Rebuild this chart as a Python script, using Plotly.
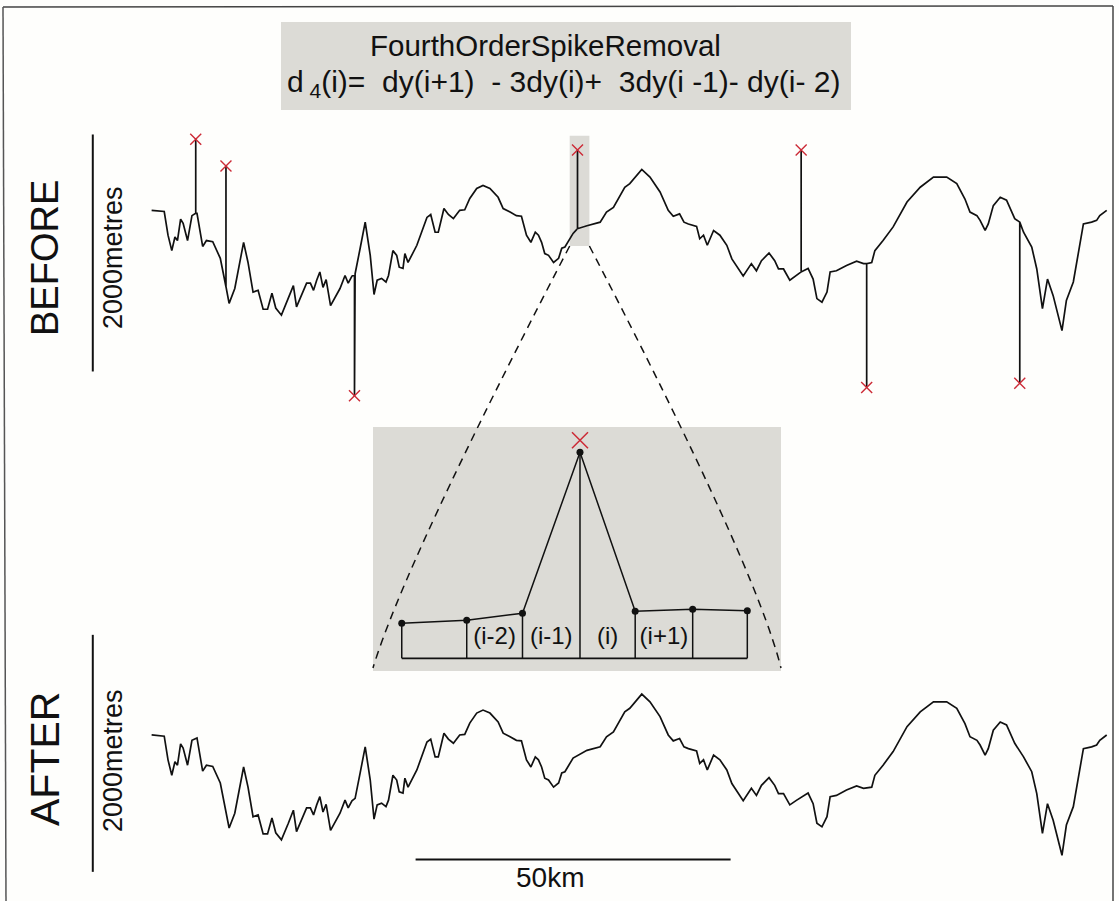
import plotly.graph_objects as go

W, H = 1119, 901

# Cleaned terrain profile: distance along track (km) and elevation (m)
dist_km = [0.1, 2.1, 2.7, 3.3, 3.8, 4.2, 4.7, 5.1, 5.8, 6.5, 7.3, 8.2, 8.8, 9.8, 11.0,
           12.4, 13.3, 14.7, 15.4, 16.2, 17.0, 17.8, 18.5, 19.2, 19.8, 20.7, 21.8, 22.6,
           23.1, 23.9, 24.7, 25.3, 25.8, 26.3, 26.8, 27.3, 27.8, 28.5, 30.0, 30.8, 31.3,
           31.9, 32.4, 33.2, 34.0, 34.8, 35.4, 35.9, 36.6, 37.3, 37.7, 38.4, 39.0, 39.4,
           40.0, 40.3, 40.8, 42.2, 43.8, 44.4, 45.1, 45.6, 46.5, 47.2, 48.0, 49.0, 49.8,
           50.6, 51.7, 52.7, 53.8, 55.1, 55.9, 57.0, 58.0, 58.8, 59.6, 60.3, 61.0, 61.5,
           62.0, 62.5, 63.1, 63.9, 64.7, 65.2, 65.7, 67.0, 69.2, 71.3, 72.3, 73.4, 75.2,
           76.0, 77.9, 79.2, 80.8, 82.1, 82.9, 83.9, 84.6, 85.3, 86.6, 87.1, 87.7, 88.3,
           89.3, 90.3, 91.4, 92.2, 94.0, 95.3, 96.1, 96.9, 98.1, 99.0, 99.6, 100.4, 101.4,
           102.5, 104.3, 105.1, 105.7, 106.5, 107.3, 107.8, 108.8, 110.4, 112.0, 113.1,
           114.4, 114.9, 116.2, 117.8, 120.0, 122.1, 124.2, 126.3, 127.9, 129.2, 130.0,
           131.1, 131.6, 132.4, 132.9, 133.7, 134.8, 135.8, 137.1, 138.5, 139.8, 140.6,
           141.5, 142.3, 143.2, 144.6, 145.3, 146.4, 148.0, 149.3, 150.1, 150.6, 151.7]
elev_m = [1155, 1145, 945, 815, 930, 900, 1080, 1045, 900, 1110, 1130, 850, 900, 890, 750,
          370, 495, 885, 715, 465, 480, 320, 320, 455, 330, 270, 410, 520,
          340, 435, 540, 540, 480, 565, 635, 505, 570, 350, 495, 605, 540,
          600, 620, 835, 1055, 775, 445, 565, 580, 550, 605, 815, 775, 675,
          665, 790, 715, 860, 1095, 1120, 970, 970, 1170, 1120, 1085, 1155, 1160,
          1255, 1340, 1365, 1340, 1265, 1170, 1140, 1110, 1105, 945, 885, 970, 945,
          885, 790, 775, 715, 750, 835, 845, 960, 1025, 1055, 1140, 1180, 1350,
          1380, 1500, 1435, 1310, 1155, 1105, 1125, 1055, 1040, 1020, 915, 945, 860,
          985, 945, 860, 745, 600, 705, 645, 730, 795, 730, 660, 660, 565,
          605, 665, 575, 410, 380, 465, 635, 645, 690, 725, 705,
          715, 815, 900, 1015, 1225, 1350, 1435, 1435, 1380, 1250, 1140,
          1110, 1070, 985, 1040, 1195, 1265, 1240, 1085, 970, 845, 660,
          325, 575, 435, 140, 395, 550, 1040, 1055, 1070, 1110, 1155]

# Single-sample spikes in the raw record
spike_km = [7.1, 11.9, 32.3, 67.7, 103.2, 113.6, 137.9]
spike_base_m = [1130, 510, 610, 1000, 635, 705, 1055]
spike_tip_m = [1755, 1530, -410, 1665, 1665, -340, -305]

# Detail of the fourth-order operator around sample i
inset_pos = [-3.1, -1.97, -1.0, 0.0, 0.96, 1.96, 2.91]
inset_val = [35, 38, 45, 206, 47, 49, 47.6]
inset_labels = ["(i-2)", "(i-1)", "(i)", "(i+1)"]
spike_mark_val = 218

# Scale bars
vbar_km = -9.24
before_bar_m = [-205, 1795]
after_bar_m = [0, 2000]
km_bar = [42, 92]
km_bar_m = 105

# Raw ("before") record: cleaned profile with the spikes put back in
raw_x, raw_y = [], []
spikes = sorted(zip(spike_km, spike_base_m, spike_tip_m))
j = 0
for xk, ym in zip(dist_km, elev_m):
    while j < len(spikes) and spikes[j][0] <= xk:
        sx, sb, st = spikes[j]
        raw_x += [sx, sx, sx]
        raw_y += [sb, st, sb]
        j += 1
    raw_x.append(xk)
    raw_y.append(ym)

INK = "#111111"
RED = "#cc2a36"
GREY = "#dcdbd6"
FONT = "Liberation Sans, Arial, Helvetica, sans-serif"


def px(x):
    return x / W


def py(y):
    return 1 - y / H


fig = go.Figure()

# BEFORE profile
fig.add_trace(go.Scatter(x=raw_x, y=raw_y, mode="lines", xaxis="x", yaxis="y",
                         line=dict(color=INK, width=1.7), hoverinfo="skip"))
fig.add_trace(go.Scatter(x=spike_km, y=spike_tip_m, mode="markers", xaxis="x", yaxis="y",
                         marker=dict(symbol="x-thin", size=11, line=dict(color=RED, width=1.4)),
                         hoverinfo="skip"))
fig.add_trace(go.Scatter(x=[vbar_km, vbar_km], y=before_bar_m, mode="lines", xaxis="x", yaxis="y",
                         line=dict(color=INK, width=2), hoverinfo="skip"))

# AFTER profile
fig.add_trace(go.Scatter(x=dist_km, y=elev_m, mode="lines", xaxis="x", yaxis="y2",
                         line=dict(color=INK, width=1.7), hoverinfo="skip"))
fig.add_trace(go.Scatter(x=[vbar_km, vbar_km], y=after_bar_m, mode="lines", xaxis="x", yaxis="y2",
                         line=dict(color=INK, width=2), hoverinfo="skip"))
fig.add_trace(go.Scatter(x=km_bar, y=[km_bar_m, km_bar_m], mode="lines", xaxis="x", yaxis="y2",
                         line=dict(color=INK, width=2), hoverinfo="skip"))

# Inset: stems, baseline, joined samples, labels
stem_x, stem_y = [], []
for s, v in zip(inset_pos, inset_val):
    stem_x += [s, s, None]
    stem_y += [0, v, None]
fig.add_trace(go.Scatter(x=stem_x, y=stem_y, mode="lines", xaxis="x3", yaxis="y3",
                         line=dict(color=INK, width=1.5), hoverinfo="skip"))
fig.add_trace(go.Scatter(x=[inset_pos[0], inset_pos[-1]], y=[0, 0], mode="lines",
                         xaxis="x3", yaxis="y3", line=dict(color=INK, width=1.8), hoverinfo="skip"))
fig.add_trace(go.Scatter(x=inset_pos, y=inset_val, mode="lines+markers", xaxis="x3", yaxis="y3",
                         line=dict(color=INK, width=1.5),
                         marker=dict(color=INK, size=7), hoverinfo="skip"))
fig.add_trace(go.Scatter(x=[inset_pos[3]], y=[spike_mark_val], mode="markers", xaxis="x3", yaxis="y3",
                         marker=dict(symbol="x-thin", size=16, line=dict(color=RED, width=1.5)),
                         hoverinfo="skip"))
mid = [(inset_pos[k] + inset_pos[k + 1]) / 2 for k in range(1, 5)]
fig.add_trace(go.Scatter(x=mid, y=[20] * 4, mode="text", text=inset_labels, xaxis="x3", yaxis="y3",
                         textfont=dict(family=FONT, size=24, color=INK), hoverinfo="skip"))

shapes = [
    # title panel and inset panel
    dict(type="rect", xref="paper", yref="paper", x0=px(281), x1=px(851), y0=py(110), y1=py(22),
         fillcolor=GREY, line=dict(width=0), layer="below"),
    dict(type="rect", xref="paper", yref="paper", x0=px(373), x1=px(781), y0=py(671), y1=py(427),
         fillcolor=GREY, line=dict(width=0), layer="below"),
    # highlight around the enlarged spike
    dict(type="rect", xref="paper", yref="paper", x0=px(569.7), x1=px(589.4), y0=py(246), y1=py(135.7),
         fillcolor=GREY, line=dict(width=0), layer="below"),
    # zoom connectors
    dict(type="path", xref="paper", yref="paper",
         path=f"M {px(569.7)},{py(246)} Q {px(404)},{py(564.5)} {px(373)},{py(668)}",
         line=dict(color=INK, width=1.5, dash="8px,6px")),
    dict(type="path", xref="paper", yref="paper",
         path=f"M {px(589.4)},{py(246)} Q {px(755.1)},{py(564.5)} {px(781)},{py(668)}",
         line=dict(color=INK, width=1.5, dash="8px,6px")),
    # frame
    dict(type="line", xref="paper", yref="paper", x0=px(3), x1=px(1113), y0=py(7), y1=py(6),
         line=dict(color="#444444", width=1.5)),
    dict(type="line", xref="paper", yref="paper", x0=px(3), x1=px(6), y0=py(7), y1=py(901),
         line=dict(color="#555555", width=1.5)),
    dict(type="line", xref="paper", yref="paper", x0=px(1113), x1=px(1113), y0=py(6), y1=py(901),
         line=dict(color="#444444", width=1.5)),
]

nb = "\u00a0"
annotations = [
    dict(text="FourthOrderSpikeRemoval", x=px(545), y=py(45), font=dict(size=29.5)),
    dict(text=f"d<sub>{nb}4</sub>(i)={nb}{nb}dy(i+1){nb}{nb}-{nb}3dy(i)+{nb}{nb}3dy(i{nb}-1)-{nb}dy(i-{nb}2)",
         x=px(563), y=py(84), font=dict(size=30)),
    dict(text="BEFORE", x=px(45), y=py(258), textangle=-90, font=dict(size=38)),
    dict(text="2000metres", x=px(113), y=py(258), textangle=-90, font=dict(size=27)),
    dict(text="AFTER", x=px(45), y=py(759), textangle=-90, font=dict(size=41)),
    dict(text="2000metres", x=px(113), y=py(761), textangle=-90, font=dict(size=27)),
    dict(text="50km", x=px(550), y=py(877), font=dict(size=28)),
]
for a in annotations:
    a.update(xref="paper", yref="paper", showarrow=False, xanchor="center", yanchor="middle")
    a["font"].update(family=FONT, color=INK)

hidden = dict(visible=False, fixedrange=True)
fig.update_layout(
    width=W, height=H,
    margin=dict(l=0, r=0, t=0, b=0),
    paper_bgcolor="#fefefc",
    plot_bgcolor="rgba(0,0,0,0)",
    showlegend=False,
    xaxis=dict(domain=[0, 1], range=[-151 / 6.3, 968 / 6.3], **hidden),
    yaxis=dict(domain=[0, 1], range=[-4674, 2930], **hidden),
    yaxis2=dict(domain=[0, 1], range=[-246, 7357], overlaying="y", **hidden),
    xaxis3=dict(domain=[px(373), px(781)], range=[-3.6, 3.496], anchor="y3", **hidden),
    yaxis3=dict(domain=[py(671), py(427)], range=[-12.7, 231.3], anchor="x3", **hidden),
    shapes=shapes,
    annotations=annotations,
)

fig.write_html("out.html")
